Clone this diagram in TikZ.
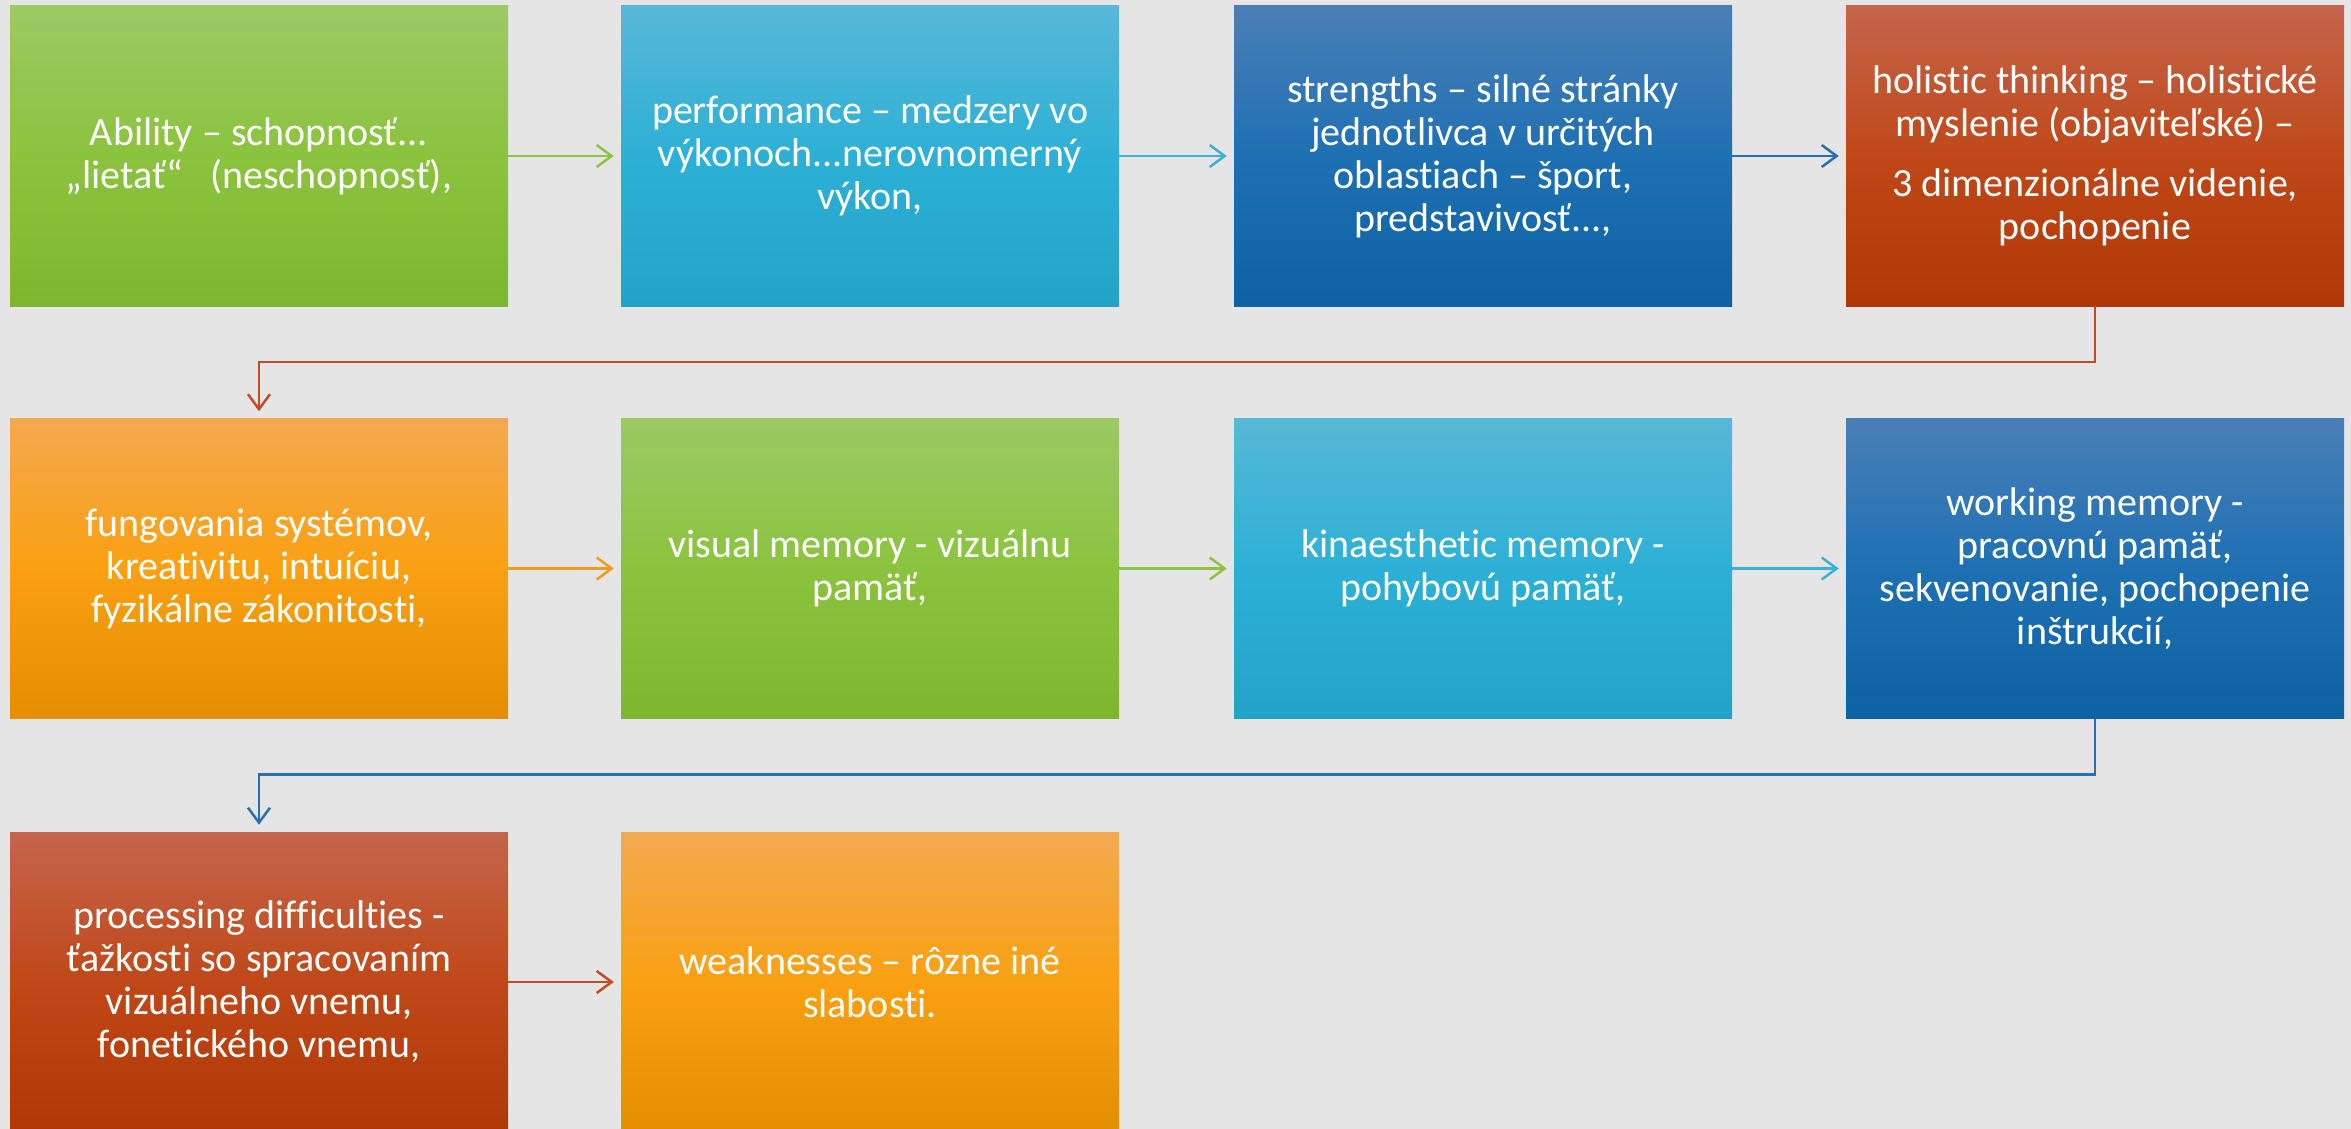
\documentclass[tikz,border=0pt]{standalone}
\usepackage{fontspec}
\setmainfont{Carlito}[Ligatures={TeX,NoCommon}]
\usetikzlibrary{arrows.meta}
\definecolor{bg}{HTML}{E6E5E5}
\definecolor{GrT}{HTML}{9CC964}
\definecolor{GrM}{HTML}{8BC33E}
\definecolor{GrB}{HTML}{7DB72F}
\definecolor{LbT}{HTML}{57B8D7}
\definecolor{LbM}{HTML}{2DB0D6}
\definecolor{LbB}{HTML}{21A4C7}
\definecolor{DbT}{HTML}{4A7FB6}
\definecolor{DbM}{HTML}{1E70B3}
\definecolor{DbB}{HTML}{0D62A1}
\definecolor{RdT}{HTML}{C4654C}
\definecolor{RdM}{HTML}{C04818}
\definecolor{RdB}{HTML}{B03706}
\definecolor{OrT}{HTML}{F3A94F}
\definecolor{OrM}{HTML}{FAA012}
\definecolor{OrB}{HTML}{E58E00}
\definecolor{GrA}{HTML}{8CC33F}
\definecolor{LbA}{HTML}{3AB2D6}
\definecolor{DbA}{HTML}{2A6FAE}
\definecolor{RdA}{HTML}{C04D24}
\definecolor{OrA}{HTML}{F19A20}
\tikzset{
  box/.style={minimum width=498pt, minimum height=300pt, inner sep=0pt,
    text=white, align=center, font=\fontsize{40}{43}\selectfont},
  greenbox/.style={box, top color=GrT, bottom color=GrB, middle color=GrM},
  lbluebox/.style={box, top color=LbT, bottom color=LbB, middle color=LbM},
  dbluebox/.style={box, top color=DbT, bottom color=DbB, middle color=DbM},
  redbox/.style={box, top color=RdT, bottom color=RdB, middle color=RdM},
  orangebox/.style={box, top color=OrT, bottom color=OrB, middle color=OrM},
  arr/.style={line width=2.5pt, -{Straight Barb[length=15pt,width=22pt,line width=2.5pt]}}
}
\begin{document}
\begin{tikzpicture}[x=1pt,y=-1pt]
\fill[bg] (0,0) rectangle (2351,1129);
\useasboundingbox (0,0) rectangle (2351,1129);
% row 1
\node[greenbox] (b1) at (259,156) {Ability – schopnosť...\\„lietať“~~~(neschopnosť),};
\node[lbluebox] (b2) at (870,156) {performance – medzery vo\\výkonoch...nerovnomerný\\výkon,};
\node[dbluebox] (b3) at (1483,156) {strengths – silné stránky\\jednotlivca v určitých\\oblastiach – šport,\\predstavivosť...,};
\node[redbox] (b4) at (2095,156) {holistic thinking – holistické\\myslenie (objaviteľské) –\\[17pt]3 dimenzionálne videnie,\\pochopenie};
% row 2
\node[orangebox] (b5) at (259,568.5) {fungovania systémov,\\kreativitu, intuíciu,\\fyzikálne zákonitosti,};
\node[greenbox] (b6) at (870,568.5) {visual memory - vizuálnu\\pamäť,};
\node[lbluebox] (b7) at (1483,568.5) {kinaesthetic memory -\\pohybovú pamäť,};
\node[dbluebox] (b8) at (2095,568.5) {working memory -\\pracovnú pamäť,\\sekvenovanie, pochopenie\\inštrukcií,};
% row 3
\node[redbox] (b9) at (259,982) {processing difficulties -\\ťažkosti so spracovaním\\vizuálneho vnemu,\\fonetického vnemu,};
\node[orangebox] (b10) at (870,982) {weaknesses – rôzne iné\\slabosti.};
% connectors
\draw[arr, GrA] (b1.east) -- ([xshift=-7pt]b2.west);
\draw[arr, LbA] (b2.east) -- ([xshift=-7pt]b3.west);
\draw[arr, DbA] (b3.east) -- ([xshift=-7pt]b4.west);
\coordinate (c45) at ([yshift=-56pt]b4.south);
\draw[arr, RdA] (b4.south) -- (c45) -| ([yshift=7pt]b5.north);
\draw[arr, OrA] (b5.east) -- ([xshift=-7pt]b6.west);
\draw[arr, GrA] (b6.east) -- ([xshift=-7pt]b7.west);
\draw[arr, LbA] (b7.east) -- ([xshift=-7pt]b8.west);
\coordinate (c89) at ([yshift=-56pt]b8.south);
\draw[arr, DbA] (b8.south) -- (c89) -| ([yshift=7pt]b9.north);
\draw[arr, RdA] (b9.east) -- ([xshift=-7pt]b10.west);
\end{tikzpicture}
\end{document}
